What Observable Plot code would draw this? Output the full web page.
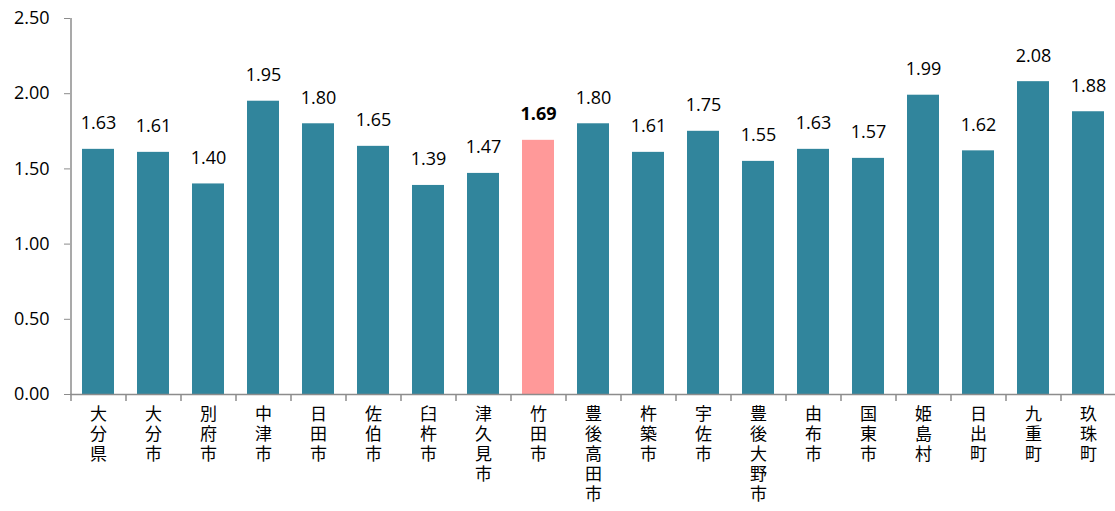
<!DOCTYPE html>
<html>
<head>
<meta charset="utf-8">
<script src="https://cdn.jsdelivr.net/npm/d3@7"></script>
<script src="https://cdn.jsdelivr.net/npm/@observablehq/plot@0.6"></script>
<style>
  html, body { margin: 0; padding: 0; background: #fff; }
  #chart svg { display: block; }
</style>
</head>
<body>
<div id="chart"></div>
<script>
const categories = ["大分県","大分市","別府市","中津市","日田市","佐伯市","臼杵市","津久見市","竹田市","豊後高田市","杵築市","宇佐市","豊後大野市","由布市","国東市","姫島村","日出町","九重町","玖珠町"];
const values = [1.63,1.61,1.40,1.95,1.80,1.65,1.39,1.47,1.69,1.80,1.61,1.75,1.55,1.63,1.57,1.99,1.62,2.08,1.88];
const highlight = "竹田市";
const yTicks = [0, 0.5, 1.0, 1.5, 2.0, 2.5];

const data = categories.map((c, i) => ({name: c, value: values[i], hl: c === highlight}));

const W = 1115, H = 511;
const mL = 70, mR = 0, mT = 18, mB = 117;
const step = (W - mL - mR) / categories.length;
const axisColor = "#8c8c8c";
const numFont = "'Open Sans', Lato, sans-serif";
const cjkFont = "'Noto Sans CJK JP', sans-serif";
const fmt = d3.format(".2f");

// vertical labels: one text mark per character row
const maxLen = d3.max(categories, c => [...c].length);
const charMarks = d3.range(maxLen).map(k =>
  Plot.text(categories.filter(c => [...c].length > k), {
    x: d => d, y: 0, text: d => [...d][k], lineAnchor: "top",
    dy: 13 + k * 20, fontSize: 17, fontFamily: cjkFont, fill: "#000"
  })
);

const chart = Plot.plot({
  width: W,
  height: H,
  marginLeft: mL,
  marginRight: mR,
  marginTop: mT,
  marginBottom: mB,
  style: {fontFamily: numFont, fontSize: "18px", color: "#000", background: "#fff"},
  x: {domain: categories, paddingInner: 0.42, paddingOuter: 0.21, axis: null},
  y: {domain: [0, 2.5], axis: null},
  marks: [
    Plot.barY(data, {x: "name", y: "value", fill: d => d.hl ? "#FF9999" : "#31859C"}),
    // y axis
    Plot.axisY({ticks: yTicks, tickFormat: fmt, tickSize: 6, tickPadding: 15,
      stroke: axisColor, fill: "#000", fontSize: 18, fontFamily: numFont, label: null}),
    Plot.ruleX([0], {x: () => categories[0], dx: -step / 2, y1: 0, y2: 2.5, stroke: axisColor, strokeWidth: 1.5}),
    // x baseline
    Plot.ruleY([0], {stroke: axisColor, strokeWidth: 1.5}),
    // category boundary ticks
    Plot.ruleX(categories, {x: d => d, dx: -step / 2, y1: 0, y2: 0, insetBottom: -7, stroke: axisColor, strokeWidth: 1.5}),
    ...charMarks,
    // value labels
    Plot.text(data.filter(d => !d.hl), {x: "name", y: "value", text: d => fmt(d.value), lineAnchor: "bottom",
      dy: -20, fontSize: 18, fontFamily: numFont, fill: "#000"}),
    Plot.text(data.filter(d => d.hl), {x: "name", y: "value", text: d => fmt(d.value), lineAnchor: "bottom",
      dy: -20, fontSize: 18, fontFamily: numFont, fill: "#000", fontWeight: "bold"})
  ]
});
document.getElementById("chart").append(chart);
</script>
</body>
</html>
